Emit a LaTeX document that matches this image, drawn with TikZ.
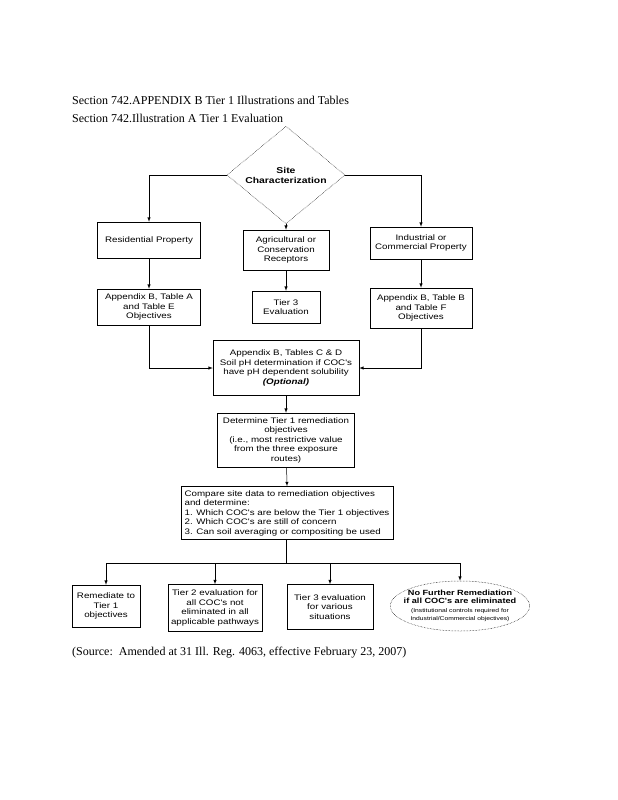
\documentclass[tikz,border=0pt]{standalone}
\usepackage{fontspec}
\setmainfont{Liberation Serif}
\newfontfamily\chartfont[FakeStretch=1.22]{Liberation Sans}
\usetikzlibrary{shapes.geometric}
\usetikzlibrary{arrows}

\tikzset{
  box/.style={draw, line width=0.5pt, align=center, inner sep=1pt,
    font=\chartfont\fontsize{8}{9.5}\selectfont},
  arr/.style={-latex, line width=0.5pt},
  line/.style={line width=0.5pt},
  heading/.style={anchor=west, inner sep=0pt, font=\fontsize{12}{14}\selectfont}
}

\begin{document}
\begin{tikzpicture}[x=1pt, y=-1pt]
     \useasboundingbox[fill=white] (0,0) rectangle (618,800);

     % text
     \node[heading] (title) at (72,100) {Section 742.APPENDIX B Tier 1 Illustrations and Tables};
     \node[heading] (subtitle) at (72,118) {Section 742.Illustration A Tier 1 Evaluation};
     \node[heading] (source) at (72,653) {(Source:\ \ Amended at 31 Ill. Reg. 4063, effective February 23, 2007)};

     % nodes
     \node[box, diamond, densely dotted, minimum width=118pt, minimum height=70pt, inner sep=0pt,
       font=\chartfont\bfseries\fontsize{8.5}{10}\selectfont] (site) at (286,175) {Site\\Characterization};

     \node[box, minimum width=103pt, minimum height=36pt] (res) at (149,240) {Residential Property};
     \node[box, minimum width=86pt, minimum height=40pt] (agr) at (286,250) {Agricultural or\\Conservation\\Receptors};
     \node[box, minimum width=102pt, minimum height=32pt] (ind) at (421,243) {Industrial or\\Commercial Property};

     \node[box, minimum width=103pt, minimum height=36pt] (appA) at (149,307) {Appendix B, Table A\\and Table E\\Objectives};
     \node[box, minimum width=68pt, minimum height=32pt] (tierthree) at (286,307) {Tier 3\\Evaluation};
     \node[box, minimum width=102pt, minimum height=40pt] (appB) at (421,308) {Appendix B, Table B\\and Table F\\Objectives};

     \node[box, minimum width=146pt, minimum height=55pt] (appD) at (286,368) {Appendix B, Tables C \& D\\Soil pH determination if COC's\\have pH dependent solubility\\\textit{\textbf{(Optional)}}};
     \node[box, minimum width=137pt, minimum height=54pt] (det) at (286,440) {Determine Tier 1 remediation\\objectives\\(i.e., most restrictive value\\from the three exposure\\routes)};
     \node[box, align=left, minimum width=212pt, minimum height=53pt] (cmp) at (287,513) {Compare site data to remediation objectives\\and determine:\\1. Which COC's are below the Tier 1 objectives\\2. Which COC's are still of concern\\3. Can soil averaging or compositing be used};

     \node[box, minimum width=68pt, minimum height=42pt] (rem) at (106,606) {Remediate to\\Tier 1\\objectives};
     \node[box, minimum width=94pt, minimum height=47pt] (tiertwo) at (215,608) {Tier 2 evaluation for\\all COC's not\\eliminated in all\\applicable pathways};
     \node[box, minimum width=86pt, minimum height=45pt] (tierthreeb) at (330,607) {Tier 3 evaluation\\for various\\situations};
     \node[box, ellipse, densely dotted, minimum width=136pt, minimum height=50pt, inner sep=-7pt,
       font=\chartfont\fontsize{7.5}{8.5}\selectfont] (nfr) at (460,606)
       {\textbf{No Further Remediation}\\\textbf{if all COC's are eliminated}\\{\fontsize{5.5}{6.5}\selectfont(Institutional controls required for}\\{\fontsize{5.5}{6.5}\selectfont Industrial/Commercial objectives)}};

     \coordinate (bus) at (286,563);

     % edges
     \draw[arr] (site.west) -| (res.north);
     \draw[arr] (site.east) -| (ind.north);
     \draw[arr] (site.south) -- (agr.north);

     \draw[arr] (res) -- (appA);
     \draw[arr] (agr) -- (tierthree);
     \draw[arr] (ind) -- (appB);

     \draw[arr] (appA.south) |- (appD.west);
     \draw[arr] (appB.south) |- (appD.east);
     \draw[arr] (appD) -- (det);
     \draw[arr] (det) -- (cmp.north);

     \draw[line] (cmp.south -| bus) -- (bus);
     \foreach \n in {rem,tiertwo,tierthreeb,nfr}
       \draw[arr] (bus) -| (\n.north);
\end{tikzpicture}
\end{document}
